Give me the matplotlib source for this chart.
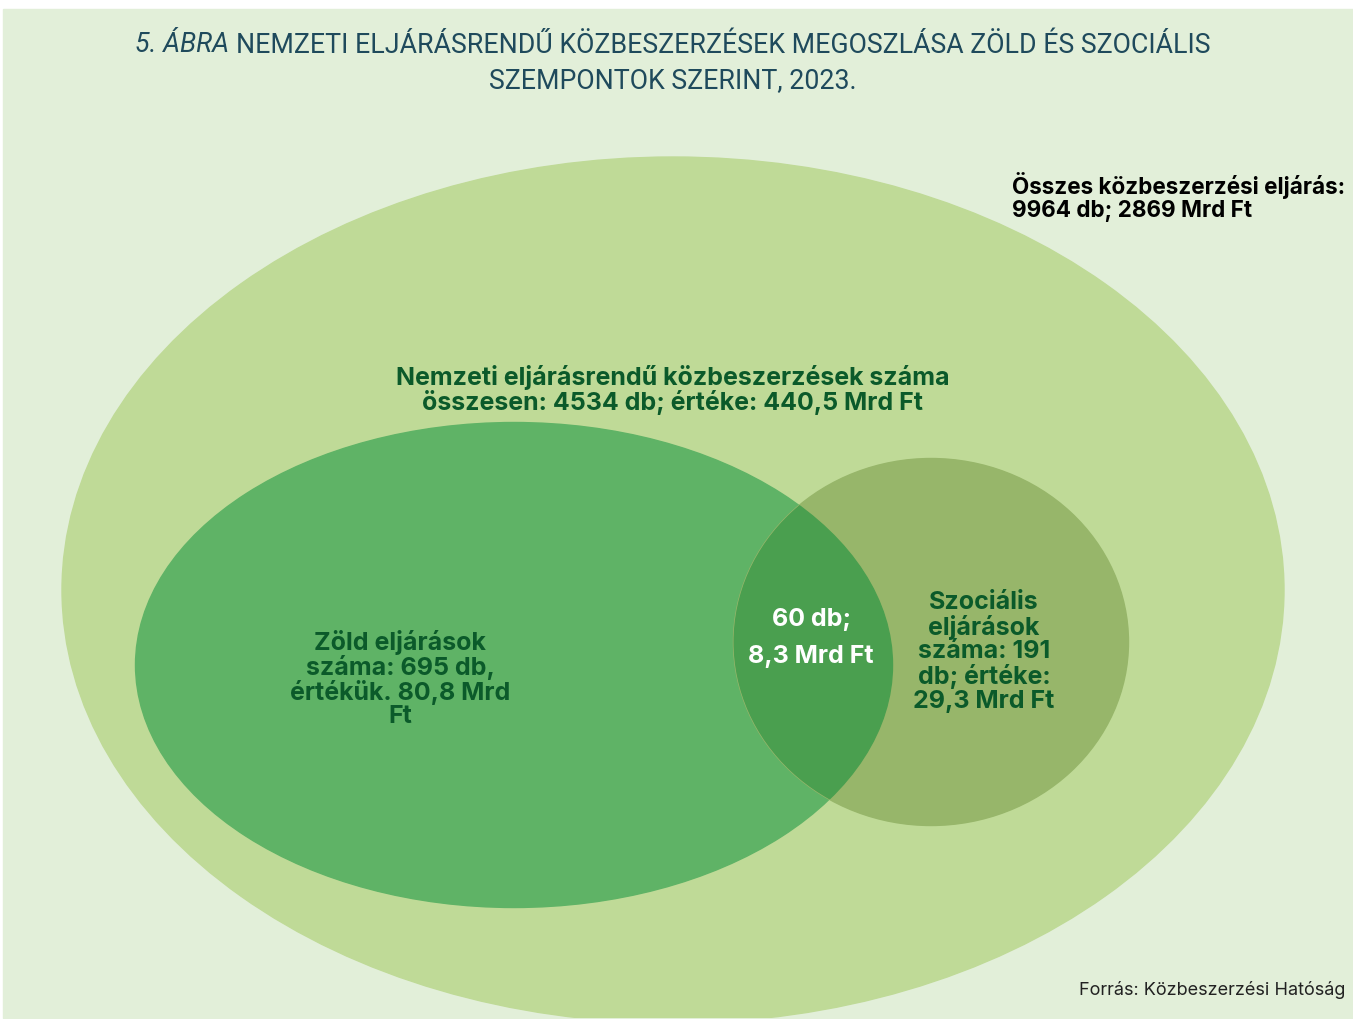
import matplotlib.pyplot as plt
from matplotlib.patches import Ellipse, Rectangle

# chart content
title_prefix = "5. ÁBRA"
title_line1 = "NEMZETI ELJÁRÁSRENDŰ KÖZBESZERZÉSEK MEGOSZLÁSA ZÖLD ÉS SZOCIÁLIS"
title_line2 = "SZEMPONTOK SZERINT, 2023."
total_label = "Összes közbeszerzési eljárás:\n9964 db; 2869 Mrd Ft"
national_label = "Nemzeti eljárásrendű közbeszerzések száma\nösszesen: 4534 db; értéke: 440,5 Mrd Ft"
green_label = "Zöld eljárások\nszáma: 695 db,\nértékük. 80,8 Mrd\nFt"
social_label = "Szociális\neljárások\nszáma: 191\ndb; értéke:\n29,3 Mrd Ft"
overlap_label = "60 db;\n8,3 Mrd Ft"
source = "Forrás: Közbeszerzési Hatóság"

# layout (pixel coords, y down)
W, H = 1353, 1019
big = dict(xy=(673, 590), width=1222, height=866)
green = dict(xy=(514, 665), width=757, height=485)
social = dict(xy=(931, 642), width=395, height=367)

bg_col = "#e2efd9"
big_col = "#bfda97"
green_col = "#5fb366"
social_col = "#97b66a"
overlap_col = "#4a9f4f"
title_col = "#1f4a5c"
label_col = "#0b5a2a"

fig = plt.figure(figsize=(W / 100, H / 100), dpi=100)
ax = fig.add_axes([0, 0, 1, 1])
ax.set_xlim(0, W)
ax.set_ylim(H, 0)
ax.axis("off")

panel = Rectangle((3, 9), W - 3, H - 10, color=bg_col, zorder=0)
ax.add_patch(panel)

e_big = Ellipse(color=big_col, zorder=1, **big)
ax.add_patch(e_big)
e_big.set_clip_path(panel)

ax.add_patch(Ellipse(color=green_col, zorder=2, **green))
e_soc = Ellipse(color=social_col, zorder=3, **social)
ax.add_patch(e_soc)
e_ov = Ellipse(color=overlap_col, zorder=4, **green)
ax.add_patch(e_ov)
e_ov.set_clip_path(e_soc)

# title, first part italic
tfont = dict(family="Roboto", size=19.3, color=title_col, zorder=10)
t1 = ax.text(135, 45, title_prefix + " ", style="italic", va="center", ha="left", **tfont)
fig.canvas.draw()
bb = t1.get_window_extent()
x_next = ax.transData.inverted().transform((bb.x1, 0))[0]
ax.text(x_next, 45, title_line1, va="center", ha="left", **tfont)
ax.text(673, 81, title_line2, va="center", ha="center", **tfont)

bfont = dict(family="Inter", weight="bold", size=18, linespacing=1.0, zorder=10)
ax.text(1012, 197, total_label, ha="left", va="center", color="black",
        family="Inter", weight="bold", size=16.2, linespacing=1.1, zorder=10)
ax.text(673, 390, national_label, ha="center", va="center", color=label_col, **bfont)
ax.text(400, 679, green_label, ha="center", va="center", color=label_col, **bfont)
ax.text(984, 652, social_label, ha="center", va="center", color=label_col,
        family="Inter", weight="bold", size=18, linespacing=1.03, zorder=10)
ax.text(811, 638, overlap_label, ha="center", va="center", color="white",
        family="Inter", weight="bold", size=18, linespacing=1.78, zorder=10)

ax.text(1345, 990, source, ha="right", va="center", color="#222222",
        family="Inter", size=13, zorder=10)

plt.savefig("out.png", dpi=100)
